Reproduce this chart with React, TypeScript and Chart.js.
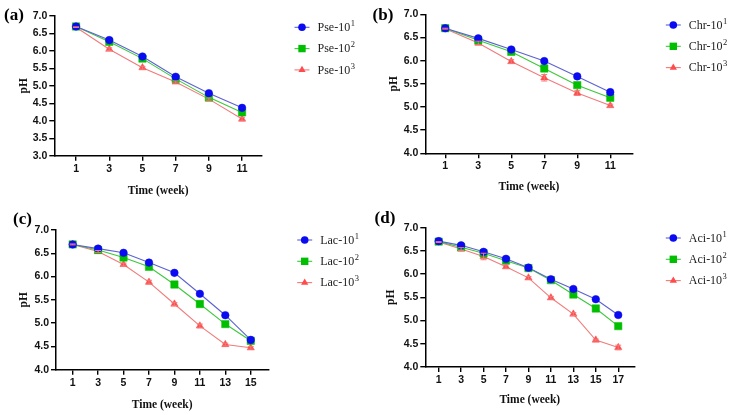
import React, { useEffect, useRef } from "react";
import { Chart, registerables } from "chart.js";

Chart.register(...registerables);

// ---------- data ----------
const weeksA = [1, 3, 5, 7, 9, 11];
const pse1 = [6.70, 6.31, 5.84, 5.26, 4.79, 4.37];
const pse2 = [6.70, 6.26, 5.78, 5.20, 4.67, 4.24];
const pse3 = [6.68, 6.05, 5.52, 5.11, 4.62, 4.05];
const pse3Err = [0.01, 0.04, 0.04, 0.03, 0.03, 0.05];

const weeksB = [1, 3, 5, 7, 9, 11];
const chr1 = [6.70, 6.48, 6.24, 5.99, 5.66, 5.32];
const chr2 = [6.70, 6.44, 6.19, 5.83, 5.47, 5.20];
const chr3 = [6.69, 6.38, 5.98, 5.63, 5.30, 5.03];
const chr3Err = [0.01, 0.04, 0.04, 0.07, 0.05, 0.03];

const weeksC = [1, 3, 5, 7, 9, 11, 13, 15];
const lac1 = [6.69, 6.60, 6.51, 6.30, 6.08, 5.63, 5.17, 4.64];
const lac2 = [6.69, 6.57, 6.41, 6.21, 5.83, 5.41, 4.98, 4.62];
const lac3 = [6.69, 6.54, 6.26, 5.88, 5.41, 4.94, 4.54, 4.47];
const lac3Err = [0.01, 0.02, 0.03, 0.04, 0.03, 0.04, 0.03, 0.03];

const weeksD = [1, 3, 5, 7, 9, 11, 13, 15, 17];
const aci1 = [6.71, 6.62, 6.48, 6.33, 6.14, 5.89, 5.68, 5.46, 5.12];
const aci2 = [6.70, 6.58, 6.45, 6.29, 6.13, 5.87, 5.56, 5.26, 4.88];
const aci3 = [6.69, 6.54, 6.38, 6.16, 5.92, 5.49, 5.14, 4.58, 4.42];
const aci3Err = [0.01, 0.03, 0.07, 0.04, 0.03, 0.03, 0.03, 0.02, 0.05];

const yTickStep = 0.5;
const xTitle = "Time (week)";
const yTitle = "pH";

// ---------- styles ----------
const SERIES_STYLE = [
  { marker: "#0b0bf2", line: "#5c62d2", shape: "circle", radius: 3.8 },
  { marker: "#00be00", line: "#3cc83c", shape: "rect", radius: 5.2 },
  { marker: "#ff4b4b", line: "#f27a7a", shape: "triangle", radius: 4.2 },
];

const TICK_FONT = { family: "'Liberation Sans', Arial, sans-serif", size: 10.5, weight: "bold" as const };
const TITLE_FONT = { family: "'Liberation Serif', 'Times New Roman', serif", size: 11.5, weight: "bold" as const };

type Panel = {
  tag: string;
  prefix: string;
  weeks: number[];
  series: number[][];
  err: number[];
  yMin: number;
  xMin: number;
  xMax: number;
  L: number; T: number; R: number; B: number;
  pHx: number; titleY: number;
  tagX: number; tagY: number;
  legX: number; legY: number;
};

const PANELS: Panel[] = [
  { tag: "(a)", prefix: "Pse-10", weeks: weeksA, series: [pse1, pse2, pse3], err: pse3Err, yMin: 3,
    xMin: -0.31, xMax: 12.2, L: 54.3, T: 16, R: 262, B: 155.7, pHx: 24, titleY: 190.7,
    tagX: 14, tagY: 16, legX: 302, legY: 27.3 },
  { tag: "(b)", prefix: "Chr-10", weeks: weeksB, series: [chr1, chr2, chr3], err: chr3Err, yMin: 4,
    xMin: -0.21, xMax: 12.36, L: 425.3, T: 14.3, R: 632.7, B: 153.3, pHx: 394.3, titleY: 187.3,
    tagX: 383, tagY: 15.5, legX: 673.3, legY: 25 },
  { tag: "(c)", prefix: "Lac-10", weeks: weeksC, series: [lac1, lac2, lac3], err: lac3Err, yMin: 4,
    xMin: -0.31, xMax: 16.38, L: 56, T: 230, R: 268.3, B: 369.7, pHx: 24, titleY: 405,
    tagX: 22.5, tagY: 220, legX: 304.7, legY: 240 },
  { tag: "(d)", prefix: "Aci-10", weeks: weeksD, series: [aci1, aci2, aci3], err: aci3Err, yMin: 4,
    xMin: -0.19, xMax: 18.43, L: 425.3, T: 227.7, R: 634.3, B: 367, pHx: 391.3, titleY: 400,
    tagX: 385, tagY: 219, legX: 673.3, legY: 238 },
];

const W = 732;
const H = 415;
const LEG_STEP = 21.3;

function drawMarker(ctx: CanvasRenderingContext2D, shape: string, x: number, y: number, r: number, color: string) {
  ctx.save();
  ctx.fillStyle = color;
  ctx.beginPath();
  if (shape === "circle") {
    ctx.arc(x, y, r, 0, Math.PI * 2);
  } else if (shape === "rect") {
    const s = r * Math.SQRT1_2;
    ctx.rect(x - s, y - s, 2 * s, 2 * s);
  } else {
    const h = r;
    ctx.moveTo(x, y - h);
    ctx.lineTo(x + h * 0.866, y + h * 0.5);
    ctx.lineTo(x - h * 0.866, y + h * 0.5);
    ctx.closePath();
  }
  ctx.fill();
  ctx.restore();
}

function PanelChart({ p }: { p: Panel }) {
  const ref = useRef<HTMLCanvasElement | null>(null);
  useEffect(() => {
    if (!ref.current) return;
    const lh = TITLE_FONT.size * 1.2;
    const yLeft = p.pHx - lh / 2;
    const yW = p.L - yLeft;
    const xBottom = p.titleY + lh / 2;
    const xH = xBottom - p.B;

    const datasets = p.series.map((vals, i) => ({
      label: p.prefix + String(i + 1),
      data: p.weeks.map((w, j) => ({ x: w, y: vals[j] })),
      borderColor: SERIES_STYLE[i].line,
      backgroundColor: SERIES_STYLE[i].marker,
      borderWidth: 1.1,
      pointStyle: SERIES_STYLE[i].shape as any,
      pointRadius: SERIES_STYLE[i].radius,
      pointBackgroundColor: SERIES_STYLE[i].marker,
      pointBorderColor: SERIES_STYLE[i].marker,
      pointBorderWidth: 0.5,
      tension: 0,
    }));

    const deco = {
      id: "deco",
      afterDatasetsDraw(chart: any) {
        const ctx = chart.ctx as CanvasRenderingContext2D;
        const xs = chart.scales.x;
        const ys = chart.scales.y;
        ctx.save();
        ctx.strokeStyle = SERIES_STYLE[2].line;
        ctx.lineWidth = 1;
        p.weeks.forEach((w, j) => {
          const e = p.err[j];
          if (!e) return;
          const v = p.series[2][j];
          const px = xs.getPixelForValue(w);
          const y1 = ys.getPixelForValue(v - e);
          const y2 = ys.getPixelForValue(v + e);
          ctx.beginPath();
          ctx.moveTo(px, y1); ctx.lineTo(px, y2);
          ctx.moveTo(px - 3, y1); ctx.lineTo(px + 3, y1);
          ctx.moveTo(px - 3, y2); ctx.lineTo(px + 3, y2);
          ctx.stroke();
        });
        ctx.restore();
      },
      afterDraw(chart: any) {
        const ctx = chart.ctx as CanvasRenderingContext2D;
        ctx.save();
        ctx.fillStyle = "#000";
        ctx.font = "bold 17px 'Liberation Serif', 'Times New Roman', serif";
        ctx.textAlign = "center";
        ctx.textBaseline = "middle";
        ctx.fillText(p.tag, p.tagX, p.tagY);
        chart.data.datasets.forEach((ds: any, i: number) => {
          const y = p.legY + i * LEG_STEP;
          ctx.strokeStyle = ds.borderColor;
          ctx.lineWidth = 1.1;
          ctx.beginPath();
          ctx.moveTo(p.legX - 7.5, y);
          ctx.lineTo(p.legX + 7.5, y);
          ctx.stroke();
          drawMarker(ctx, SERIES_STYLE[i].shape, p.legX, y, SERIES_STYLE[i].radius, SERIES_STYLE[i].marker);
          const tx = p.legX + 15.5;
          ctx.fillStyle = "#222";
          ctx.textAlign = "left";
          ctx.textBaseline = "middle";
          ctx.font = "12px 'Liberation Serif', 'Times New Roman', serif";
          ctx.fillText(p.prefix, tx, y + 0.5);
          const wTxt = ctx.measureText(p.prefix).width;
          ctx.font = "8.5px 'Liberation Serif', 'Times New Roman', serif";
          ctx.fillText(String(i + 1), tx + wTxt + 0.5, y - 3.5);
        });
        ctx.restore();
      },
    };

    const chart = new Chart(ref.current, {
      type: "line",
      data: { datasets },
      options: {
        animation: false,
        responsive: false,
        maintainAspectRatio: false,
        devicePixelRatio: 1,
        layout: {
          padding: { left: yLeft, top: p.T, right: W - p.R, bottom: H - xBottom },
        },
        plugins: { legend: { display: false }, tooltip: { enabled: false } },
        scales: {
          x: {
            type: "linear",
            min: p.xMin,
            max: p.xMax,
            afterBuildTicks: (s: any) => {
              s.ticks = p.weeks.map((v) => ({ value: v }));
            },
            afterFit: (s: any) => {
              s.height = xH;
            },
            ticks: {
              autoSkip: false,
              maxRotation: 0,
              padding: 2,
              color: "#111",
              font: TICK_FONT,
              callback: (v: any) => String(v),
            },
            grid: { drawOnChartArea: false, drawTicks: true, tickLength: 5, color: "#000", lineWidth: 1.4 },
            border: { display: true, color: "#000", width: 1.5 },
            title: { display: true, text: xTitle, color: "#111", font: TITLE_FONT, padding: 0 },
          },
          y: {
            type: "linear",
            min: p.yMin,
            max: 7,
            afterFit: (s: any) => {
              s.width = yW;
            },
            ticks: {
              stepSize: yTickStep,
              padding: 2,
              color: "#111",
              font: TICK_FONT,
              callback: (v: any) => Number(v).toFixed(1),
            },
            grid: { drawOnChartArea: false, drawTicks: true, tickLength: 5, color: "#000", lineWidth: 1.4 },
            border: { display: true, color: "#000", width: 1.5 },
            title: { display: true, text: yTitle, color: "#111", font: TITLE_FONT, padding: 0 },
          },
        },
      },
      plugins: [deco],
    } as any);
    return () => chart.destroy();
  }, [p]);
  return (
    <canvas
      ref={ref}
      width={W}
      height={H}
      style={{ position: "absolute", left: 0, top: 0, width: W, height: H }}
    />
  );
}

export default function App() {
  return (
    <div style={{ position: "fixed", left: 0, top: 0, width: W, height: H, background: "#fff" }}>
      {PANELS.map((p) => (
        <PanelChart key={p.tag} p={p} />
      ))}
    </div>
  );
}
